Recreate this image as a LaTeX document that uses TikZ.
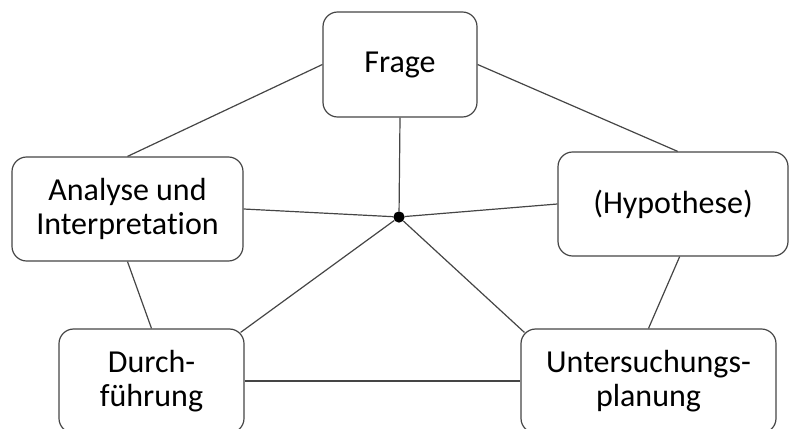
\documentclass[tikz,border=0pt]{standalone}
\usepackage{fontspec}
\setmainfont[Ligatures=NoCommon]{Carlito}
\begin{document}
\begin{tikzpicture}[x=0.75pt,y=-0.75pt,
  stagebox/.style={draw=edgegray, line width=0.9pt, rounded corners=11pt,
    align=center, inner sep=2pt, fill=white,
    font=\fontsize{24}{25}\selectfont},
  link/.style={draw=edgegray, line width=0.9pt},
  hub/.style={circle, fill=black, inner sep=0pt, minimum size=8.5pt}]
\definecolor{edgegray}{HTML}{454545}
\useasboundingbox (0,0) rectangle (791,428);
\clip (0,0) rectangle (791,428);

% the five stages of the inquiry cycle
\node[stagebox, minimum width=115.5pt, minimum height=78.75pt] (frage) at (400,64.5) {Frage};
\node[stagebox, minimum width=173.25pt, minimum height=78pt] (ana) at (127.5,209) {Analyse und\\Interpretation};
\node[stagebox, minimum width=172.5pt, minimum height=78pt] (hyp) at (673,204) {(Hypothese)};
\node[stagebox, minimum width=138.75pt, minimum height=78pt] (dur) at (151.5,381) {Durch-\\führung};
\node[stagebox, minimum width=191.25pt, minimum height=78pt] (unt) at (648.5,381) {Untersuchungs-\\planung};

% central hub
\node[hub] (dot) at (399,217) {};

% outer ring
\draw[link] (frage.west) -- (ana.north);
\draw[link] (frage.east) -- ([xshift=3.5pt]hyp.north);
\draw[link] (ana.south) -- (dur.north);
\draw[link] ([xshift=5pt]hyp.south) -- (unt.north);
\draw[link] (dur.east) -- (unt.west);

% spokes to the hub
\draw[link] (frage.south) -- (dot);
\draw[link] (ana.east) -- (dot);
\draw[link] (hyp.west) -- (dot);
\draw[link] (dot) -- ([shift={(-4,4)}]dur.north east);
\draw[link] (dot) -- ([shift={(4,4)}]unt.north west);
\end{tikzpicture}
\end{document}
